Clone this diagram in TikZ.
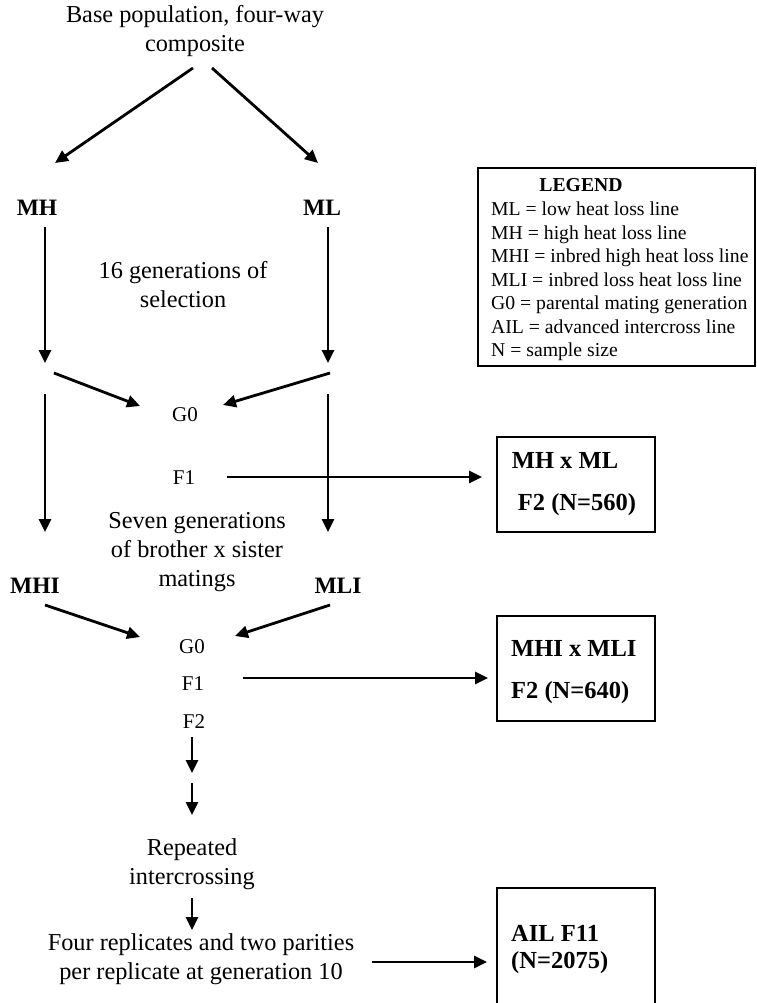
\documentclass[tikz,border=0pt]{standalone}
\usepackage{fontspec}
\setmainfont{Liberation Serif}
\usetikzlibrary{arrows.meta}
\begin{document}
\begin{tikzpicture}[x=1pt,y=-1pt,
  arr/.style={line width=2.8pt,-{Triangle[length=13pt,width=12pt]}},
  txt/.style={font=\fontsize{24.3}{29}\selectfont, align=center, inner sep=0pt},
  lab/.style={font=\fontsize{23.5}{28}\selectfont\bfseries, inner sep=0pt},
  gen/.style={font=\fontsize{21}{24}\selectfont, inner sep=0pt},
  boxtxt/.style={font=\fontsize{24.5}{28}\selectfont\bfseries, inner sep=0pt},
  leg/.style={font=\fontsize{19.7}{23}\selectfont, inner sep=0pt, anchor=base west},
  resbox/.style={draw, line width=1.4pt, inner sep=0pt}]
\useasboundingbox (0,0) rectangle (756,1003);

% texts
\node[txt] (base) at (195,31) {Base population, four-way\\composite};
\node[lab] (mh) at (37,208) {MH};
\node[lab] (ml) at (322,208) {ML};
\node[txt] (sel) at (183,285) {16 generations of\\selection};
\node[gen] (g0a) at (185,415) {G0};
\node[gen] (f1a) at (184,478) {F1};
\node[txt] (seven) at (197,552) {Seven generations\\of brother x sister\\matings};
\node[lab] (mhi) at (35,586) {MHI};
\node[lab] (mli) at (338,586) {MLI};
\node[gen] (g0b) at (192,647) {G0};
\node[gen] (f1b) at (193,684) {F1};
\node[gen] (f2b) at (194,722) {F2};
\node[txt] (rep) at (192,864) {Repeated\\intercrossing};
\node[txt] (four) at (201,959) {Four replicates and two parities\\per replicate at generation 10};

% result boxes
\node[resbox, minimum width=158pt, minimum height=95pt] (box1) at (576,484.5) {};
\node[boxtxt] (box1a) at (565,460) {MH x ML};
\node[boxtxt] (box1b) at (577,505) {F2 (N=560)};
\node[resbox, minimum width=158pt, minimum height=105pt] (box2) at (576,668.5) {};
\node[boxtxt, anchor=west] (box2a) at (511,648) {MHI x MLI};
\node[boxtxt, anchor=west] (box2b) at (511,693) {F2 (N=640)};
\node[resbox, minimum width=158pt, minimum height=140pt] (box3) at (576,958) {};
\node[boxtxt, anchor=west] (box3a) at (511,933) {AIL F11};
\node[boxtxt, anchor=west] (box3b) at (511,963) {(N=2075)};

% legend
\node[draw, line width=1.1pt, inner sep=0pt, minimum width=277pt, minimum height=198pt] (legend) at (616.5,267) {};
\node[font=\fontsize{19.7}{23}\selectfont\bfseries, inner sep=0pt, anchor=base] (legt) at (581,192) {LEGEND};
\node[leg] (leg1) at (491,215.5) {ML = low heat loss line};
\node[leg] (leg2) at (491,239) {MH = high heat loss line};
\node[leg] (leg3) at (491,262.5) {MHI = inbred high heat loss line};
\node[leg] (leg4) at (491,286) {MLI = inbred loss heat loss line};
\node[leg] (leg5) at (491,309.5) {G0 = parental mating generation};
\node[leg] (leg6) at (491,333) {AIL = advanced intercross line};
\node[leg] (leg7) at (491,356) {N = sample size};

% connector coordinates
\coordinate (a1s) at (193,68);  \coordinate (a1e) at (55,163);
\coordinate (a2s) at (212,68);  \coordinate (a2e) at (318,163);
\coordinate (a3s) at (45,227);  \coordinate (a3e) at (45,363);
\coordinate (a4s) at (328,227); \coordinate (a4e) at (328,363);
\coordinate (a5s) at (54,373);  \coordinate (a5e) at (140,406);
\coordinate (a6s) at (330,373); \coordinate (a6e) at (223,405);
\coordinate (a7s) at (45,394);  \coordinate (a7e) at (45,532);
\coordinate (a8s) at (328,394); \coordinate (a8e) at (328,532);
\coordinate (a9s) at (227,477); \coordinate (a9e) at (482,477);
\coordinate (a10s) at (45,605); \coordinate (a10e) at (140,637);
\coordinate (a11s) at (330,605); \coordinate (a11e) at (235,636);
\coordinate (a12s) at (243,678); \coordinate (a12e) at (488,678);
\coordinate (a13s) at (192,737); \coordinate (a13e) at (192,773);
\coordinate (a14s) at (192,783); \coordinate (a14e) at (192,815);
\coordinate (a15s) at (192,898); \coordinate (a15e) at (192,930);
\coordinate (a16s) at (372,962); \coordinate (a16e) at (487,962);

\draw[arr] (a1s) -- (a1e);
\draw[arr] (a2s) -- (a2e);
\draw[arr] (a3s) -- (a3e);
\draw[arr] (a4s) -- (a4e);
\draw[arr] (a5s) -- (a5e);
\draw[arr] (a6s) -- (a6e);
\draw[arr] (a7s) -- (a7e);
\draw[arr] (a8s) -- (a8e);
\draw[arr] (a9s) -- (a9e);
\draw[arr] (a10s) -- (a10e);
\draw[arr] (a11s) -- (a11e);
\draw[arr] (a12s) -- (a12e);
\draw[arr] (a13s) -- (a13e);
\draw[arr] (a14s) -- (a14e);
\draw[arr] (a15s) -- (a15e);
\draw[arr] (a16s) -- (a16e);
\end{tikzpicture}
\end{document}
